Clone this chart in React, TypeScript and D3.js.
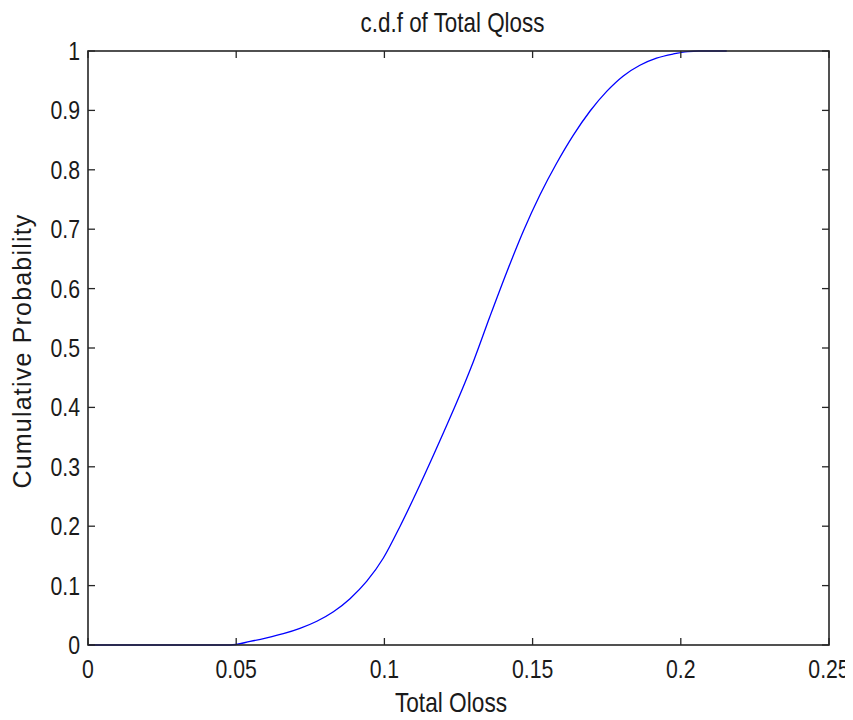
import * as d3 from "d3";
import { useRef, useEffect } from "react";

// values
const qloss = [
  0, 0.048, 0.0547, 0.0603, 0.0659, 0.0715, 0.0772, 0.0828, 0.0884, 0.094,
  0.0996, 0.1053, 0.1109, 0.1165, 0.1221, 0.1272, 0.13, 0.1356, 0.1413,
  0.1469, 0.1525, 0.1581, 0.1637, 0.1694, 0.175, 0.1806, 0.1862, 0.1918,
  0.1975, 0.2024, 0.206, 0.2155,
];
const cumProb = [
  0, 0, 0.006, 0.012, 0.019, 0.028, 0.04, 0.056, 0.078, 0.107, 0.146, 0.2,
  0.258, 0.319, 0.382, 0.442, 0.477, 0.553, 0.628, 0.697, 0.758, 0.811, 0.858,
  0.899, 0.932, 0.958, 0.976, 0.988, 0.995, 0.999, 1, 1,
];
const xTicks = [0, 0.05, 0.1, 0.15, 0.2, 0.25];
const yTicks = [0, 0.1, 0.2, 0.3, 0.4, 0.5, 0.6, 0.7, 0.8, 0.9, 1];

const W = 853;
const H = 720;
const FONT = "'Liberation Sans', Arial, sans-serif";

function CdfChart() {
  const svgRef = useRef<SVGSVGElement>(null);

  useEffect(() => {
    const svg = d3.select(svgRef.current);
    svg.selectAll("*").remove();

    const left = 88, right = 829, top = 51, bottom = 645;
    const x = d3.scaleLinear().domain([0, 0.25]).range([left, right]);
    const y = d3.scaleLinear().domain([0, 1]).range([bottom, top]);
    const tick = 7;
    const axisColor = "#262626";

    const pts = qloss.map((q, i) => [q, cumProb[i]] as [number, number]);
    const line = d3
      .line<[number, number]>()
      .x((d) => x(d[0]))
      .y((d) => y(d[1]))
      .curve(d3.curveMonotoneX);

    svg
      .append("path")
      .datum(pts)
      .attr("d", line)
      .attr("fill", "none")
      .attr("stroke", "#0000ff")
      .attr("stroke-width", 1.3);

    // frame
    svg
      .append("rect")
      .attr("x", left)
      .attr("y", top)
      .attr("width", right - left)
      .attr("height", bottom - top)
      .attr("fill", "none")
      .attr("stroke", axisColor)
      .attr("stroke-width", 1.6);

    // ticks on all four sides, pointing inward
    const g = svg.append("g").attr("stroke", axisColor).attr("stroke-width", 1.3);
    xTicks.forEach((t) => {
      g.append("line").attr("x1", x(t)).attr("x2", x(t)).attr("y1", bottom).attr("y2", bottom - tick);
      g.append("line").attr("x1", x(t)).attr("x2", x(t)).attr("y1", top).attr("y2", top + tick);
    });
    yTicks.forEach((t) => {
      g.append("line").attr("x1", left).attr("x2", left + tick).attr("y1", y(t)).attr("y2", y(t));
      g.append("line").attr("x1", right).attr("x2", right - tick).attr("y1", y(t)).attr("y2", y(t));
    });

    const txt = svg.append("g").attr("font-family", FONT).attr("fill", "#1a1a1a");

    // narrow-looking labels: regular font squeezed horizontally
    const narrow = (
      px: number,
      py: number,
      s: string,
      size: number,
      anchor: string,
      sx: number,
      dy = "0"
    ) =>
      txt
        .append("text")
        .attr("transform", `translate(${px},${py}) scale(${sx},1)`)
        .attr("font-size", size)
        .attr("text-anchor", anchor)
        .attr("dy", dy)
        .text(s);

    xTicks.forEach((t) => narrow(x(t), 678, String(t), 25, "middle", 0.85));
    yTicks.forEach((t) => narrow(80, y(t), String(t), 25, "end", 0.85, "0.36em"));

    narrow((left + right) / 2 - 6, 32, "c.d.f of Total Qloss", 27, "middle", 0.83);
    narrow(451, 712, "Total Qloss", 27, "middle", 0.84);

    txt
      .append("text")
      .attr("transform", `translate(31, 351) rotate(-90)`)
      .attr("font-size", 25)
      .attr("letter-spacing", 1.2)
      .attr("text-anchor", "middle")
      .text("Cumulative Probability");
  }, []);

  return <svg ref={svgRef} width={W} height={H} style={{ display: "block" }}></svg>;
}

export default function App() {
  return (
    <div style={{ margin: -8, width: W, height: H, background: "#fff" }}>
      <CdfChart />
    </div>
  );
}
